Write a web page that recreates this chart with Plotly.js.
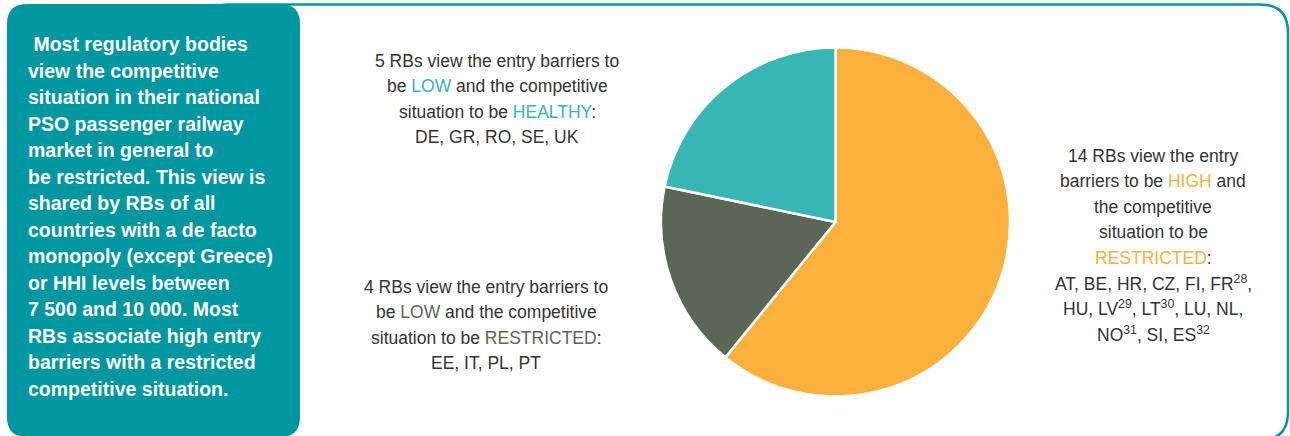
<!DOCTYPE html>
<html>
<head>
<meta charset="utf-8">
<script src="https://cdn.plot.ly/plotly-3.0.1.min.js"></script>
<style>html,body{margin:0;padding:0;background:#fff;}#chart{width:1290px;height:436px;}</style>
</head>
<body>
<div id="chart"></div>
<script>
// ---- data ----
const categories = ["High barriers / restricted", "Low barriers / restricted", "Low barriers / healthy"];
const rbCounts = [14, 4, 5];
const sliceColors = ["#FBB03B", "#5B6657", "#37B6B3"];

const highRestrictedLines = [
  "14 RBs view the entry",
  "barriers to be <span style='color:#FBB03B'>HIGH</span> and",
  "the competitive",
  "situation to be",
  "<span style='color:#FBB03B'>RESTRICTED</span>:",
  "AT, BE, HR, CZ, FI, FR<sup>28</sup>,",
  "HU, LV<sup>29</sup>, LT<sup>30</sup>, LU, NL,",
  "NO<sup>31</sup>, SI, ES<sup>32</sup>"
];
const lowRestrictedLines = [
  "4 RBs view the entry barriers to",
  "be <span style='color:#5B6657'>LOW</span> and the competitive",
  "situation to be <span style='color:#5B6657'>RESTRICTED</span>:",
  "EE, IT, PL, PT"
];
const lowHealthyLines = [
  "5 RBs view the entry barriers to",
  "be <span style='color:#37B6B3'>LOW</span> and the competitive",
  "situation to be <span style='color:#37B6B3'>HEALTHY</span>:",
  "DE, GR, RO, SE, UK"
];
const sideNoteLines = [
  " Most regulatory bodies",
  "view the competitive",
  "situation in their national",
  "PSO passenger railway",
  "market in general to",
  "be restricted. This view is",
  "shared by RBs of all",
  "countries with a de facto",
  "monopoly (except Greece)",
  "or HHI levels between",
  "7 500 and 10 000. Most",
  "RBs associate high entry",
  "barriers with a restricted",
  "competitive situation."
];

// ---- layout helpers ----
const TEAL = "#0097A0";
const W = 1290, H = 436;
const labelFont = {family: "Liberation Sans, Arial, sans-serif", size: 17.5, color: "#333333"};
const noteFont = {family: "Liberation Sans, Arial, sans-serif", size: 19.5, color: "#ffffff", weight: "bold"};

function block(lines, cx, y0, step, font, anchor) {
  return lines.map((t, i) => ({
    x: cx, y: y0 + i * step, xref: "x", yref: "y",
    text: t, showarrow: false, xanchor: anchor, yanchor: "middle",
    align: anchor === "left" ? "left" : "center", font: font
  }));
}

const annotations = [].concat(
  block(sideNoteLines, 26, 44, 26.5, noteFont, "left"),
  block(lowHealthyLines, 497, 61, 25.3, labelFont, "center"),
  block(lowRestrictedLines, 486, 287, 25.3, labelFont, "center"),
  block(highRestrictedLines, 1153, 156, 25.4, labelFont, "center")
);

function roundRect(x0, y0, x1, y1, r) {
  return `M${x0+r},${y0} L${x1-r},${y0} Q${x1},${y0} ${x1},${y0+r} L${x1},${y1-r} Q${x1},${y1} ${x1-r},${y1} L${x0+r},${y1} Q${x0},${y1} ${x0},${y1-r} L${x0},${y0+r} Q${x0},${y0} ${x0+r},${y0} Z`;
}

const shapes = [
  {type: "path", xref: "x", yref: "y", path: roundRect(200, 4.5, 1288, 440, 28),
   line: {color: TEAL, width: 2.5}, fillcolor: "rgba(0,0,0,0)", layer: "below"},
  {type: "path", xref: "x", yref: "y", path: roundRect(7, 4, 300, 437, 20),
   line: {width: 0}, fillcolor: TEAL, layer: "below"}
];

const cx = 835.5, cy = 222, r = 174.5;
const pie = {
  type: "pie",
  values: rbCounts,
  labels: categories,
  marker: {colors: sliceColors, line: {color: "#ffffff", width: 2.5}},
  sort: false,
  direction: "clockwise",
  rotation: 0,
  textinfo: "none",
  hoverinfo: "none",
  showlegend: false,
  domain: {x: [(cx - r) / W, (cx + r) / W], y: [1 - (cy + r) / H, 1 - (cy - r) / H]}
};

const layout = {
  width: W, height: H,
  margin: {l: 0, r: 0, t: 0, b: 0},
  paper_bgcolor: "#ffffff", plot_bgcolor: "rgba(0,0,0,0)",
  xaxis: {range: [0, W], visible: false, fixedrange: true},
  yaxis: {range: [H, 0], visible: false, fixedrange: true},
  showlegend: false,
  shapes: shapes,
  annotations: annotations
};

Plotly.newPlot("chart", [pie], layout, {displayModeBar: false, staticPlot: true});
</script>
</body>
</html>
